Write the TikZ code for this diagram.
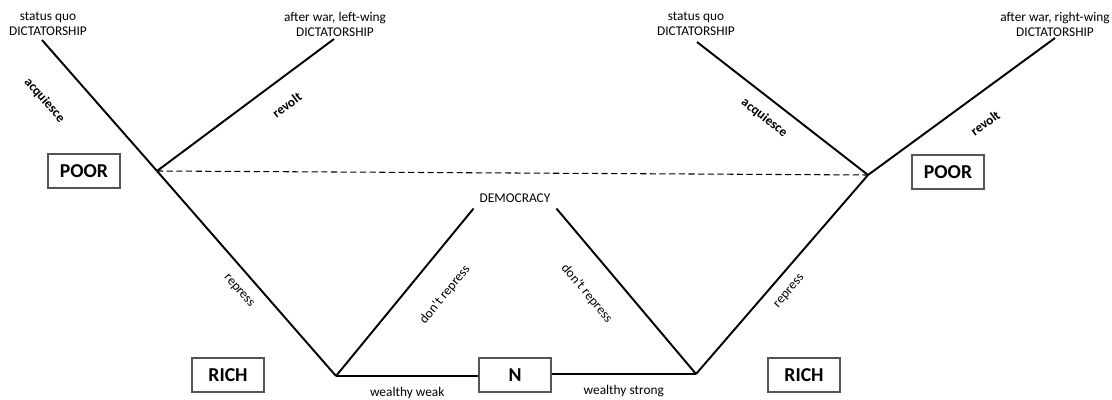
\documentclass[tikz,border=0pt]{standalone}
\usepackage{fontspec}
\setmainfont{Carlito}
\usepackage{tikz}
\usetikzlibrary{positioning}
\definecolor{BoxLine}{HTML}{555555}

\begin{document}
\begin{tikzpicture}[x=0.02cm,y=0.02cm,
  player/.style={draw=BoxLine,line width=0.6pt,minimum width=1.44cm,minimum height=0.68cm,inner sep=0pt,font=\fontsize{11.2}{13}\selectfont\bfseries},
  outcome/.style={align=center,inner sep=0pt,font=\fontsize{7.6}{8.5}\selectfont},
  move/.style={line width=1.1pt},
  act/.style={sloped,inner sep=1pt,font=\fontsize{7.6}{9}\selectfont},
  boldact/.style={act,font=\fontsize{7.6}{9}\selectfont\bfseries}]
  \useasboundingbox (0,0) rectangle (1112,399);

  % players
  \node[player] (poorL) at (84,228) {POOR};
  \node[player] (poorR) at (948,227) {POOR};
  \node[player] (richL) at (228,24) {RICH};
  \node[player] (nature) at (515,24) {N};
  \node[player] (richR) at (804,24) {RICH};

  % outcomes
  \node[outcome] (sqLtxt) at (48,375) {status quo\\DICTATORSHIP};
  \node[outcome] (awLtxt) at (335,375) {after war, left-wing\\DICTATORSHIP};
  \node[outcome] (sqRtxt) at (696,375) {status quo\\DICTATORSHIP};
  \node[outcome] (awRtxt) at (1055,375) {after war, right-wing\\DICTATORSHIP};
  \node[outcome,inner sep=3.3pt] (dem) at (515,201) {DEMOCRACY};

  % decision points and line ends
  \coordinate (pL) at (157,228);
  \coordinate (pR) at (868,224);
  \coordinate (rL) at (336,23);
  \coordinate (rR) at (696,25);
  \coordinate (sqL) at (42,359);
  \coordinate (awL) at (334,360);
  \coordinate (sqR) at (697,357);
  \coordinate (awR) at (1055,361);

  % nature
  \draw[move] (rL) -- node[act,below=0.18cm]{wealthy weak} (rL -| nature.west);
  \draw[move] (rR -| nature.east) -- node[act,below=0.18cm]{wealthy strong} (rR);

  % rich
  \draw[move] (rL) -- node[act,pos=0.61,below=0.48cm]{don’t repress} (dem.south west);
  \draw[move] (pL) -- node[act,pos=0.53,below=0.21cm]{repress} (rL);
  \draw[move] (dem.south east) -- node[act,pos=0.39,below=0.46cm]{don’t repress} (rR);
  \draw[move] (rR) -- node[act,pos=0.47,below=0.20cm]{repress} (pR);

  % poor
  \draw[move] (sqL) -- node[boldact,pos=0.27,below=0.59cm]{acquiesce} (pL);
  \draw[move] (pL) -- node[boldact,pos=0.65,below=0.35cm]{revolt} (awL);
  \draw[move] (sqR) -- node[boldact,pos=0.46,below=0.20cm]{acquiesce} (pR);
  \draw[move] (pR) -- node[boldact,pos=0.54,below=0.40cm]{revolt} (awR);

  \draw[line width=0.6pt,dash pattern=on 3.5pt off 2pt] (pL) -- (pR);
\end{tikzpicture}
\end{document}
